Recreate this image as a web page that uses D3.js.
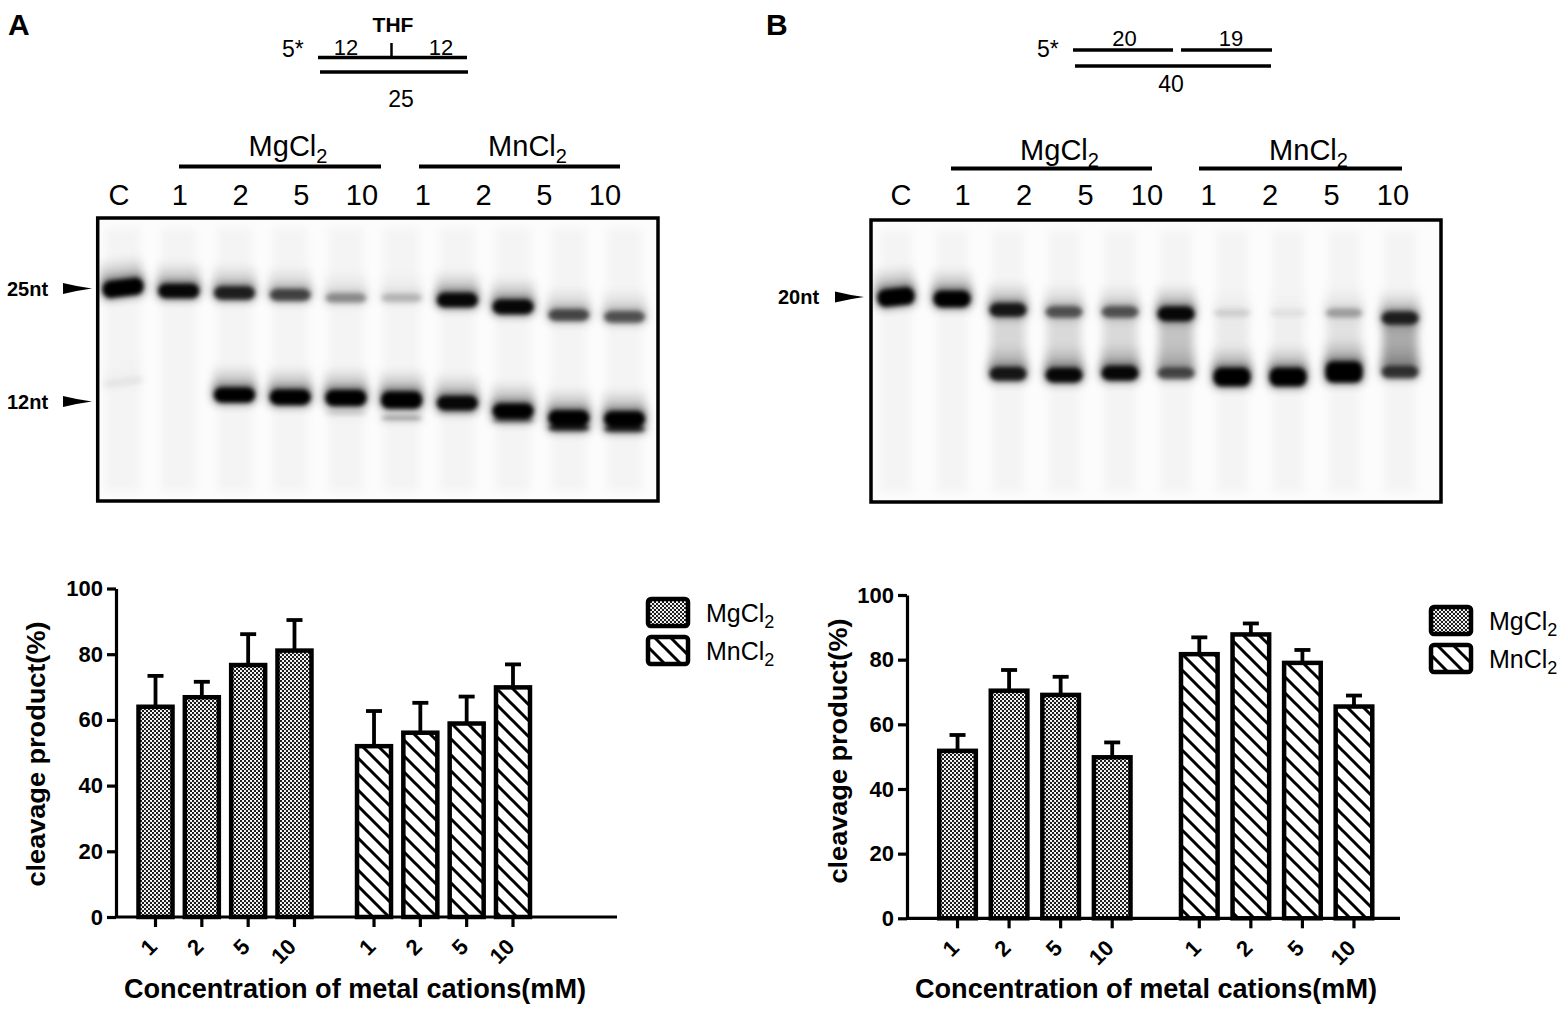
<!DOCTYPE html>
<html>
<head>
<meta charset="utf-8">
<script src="https://cdn.jsdelivr.net/npm/d3@7"></script>
<style>
  body { margin: 0; background: #fff; }
  svg { display: block; font-family: "Liberation Sans", Arial, Helvetica, sans-serif; }
</style>
</head>
<body>
<svg id="fig" width="1567" height="1012"></svg>
<script>
// ---------- data ----------
const concentrations = ["1", "2", "5", "10"];
const salts = ["MgCl2", "MnCl2"];
const yTicks = [0, 20, 40, 60, 80, 100];

// panel A bar chart (mean, SEM)
const cleavA_Mg = [64.0, 66.9, 76.7, 81.1];
const semA_Mg = [9.4, 4.7, 9.4, 9.3];
const cleavA_Mn = [52.0, 56.1, 58.9, 69.9];
const semA_Mn = [10.7, 9.1, 8.2, 7.0];

// panel B bar chart (mean, SEM)
const cleavB_Mg = [51.8, 70.4, 69.1, 49.8];
const semB_Mg = [4.9, 6.4, 5.6, 4.6];
const cleavB_Mn = [81.7, 87.8, 79.0, 65.5];
const semB_Mn = [5.2, 3.4, 4.0, 3.4];

// gel lane labels
const laneLabels = ["C", "1", "2", "5", "10", "1", "2", "5", "10"];

// gel A: band migration (fraction of gel height) and intensity, 10 lanes
const gelAUpperPos = [0.247, 0.258, 0.265, 0.272, 0.283, 0.283, 0.290, 0.314, 0.343, 0.350];
const gelAUpperInt = [1.2, 0.95, 0.8, 0.62, 0.32, 0.18, 0.95, 0.95, 0.6, 0.55];
const gelALowerPos = [0.580, 0.620, 0.625, 0.633, 0.636, 0.643, 0.654, 0.682, 0.707, 0.710];
const gelALowerInt = [0.04, 0, 1.0, 1.05, 1.1, 1.2, 0.95, 1.0, 1.05, 1.05];
const gelASubPos = [0, 0, 0, 0, 0.689, 0.707, 0.690, 0.714, 0.742, 0.746];
const gelASubInt = [0, 0, 0, 0, 0.12, 0.3, 0.08, 0.45, 0.8, 0.8];

// gel B
const gelBUpperPos = [0.273, 0.280, 0.319, 0.326, 0.326, 0.333, 0.330, 0.330, 0.330, 0.348];
const gelBUpperInt = [1.25, 1.15, 0.85, 0.55, 0.55, 0.95, 0.1, 0.05, 0.25, 0.8];
const gelBLowerPos = [0.550, 0.550, 0.546, 0.550, 0.543, 0.543, 0.557, 0.557, 0.539, 0.539];
const gelBLowerInt = [0, 0, 0.85, 0.95, 0.95, 0.6, 1.35, 1.35, 1.6, 0.7];
const gelBMidInt = [0, 0, 0.12, 0.11, 0.11, 0.2, 0.04, 0.02, 0.08, 0.3];

// ---------- setup ----------
const svg = d3.select("#fig");
const defs = svg.append("defs");

const dots = defs.append("pattern").attr("id", "dots")
  .attr("patternUnits", "userSpaceOnUse").attr("width", 4).attr("height", 4);
dots.append("rect").attr("width", 4).attr("height", 4).attr("fill", "#fff");
dots.append("circle").attr("cx", 1).attr("cy", 1).attr("r", 1.15).attr("fill", "#111");
dots.append("circle").attr("cx", 3).attr("cy", 3).attr("r", 1.15).attr("fill", "#111");

const hatch = defs.append("pattern").attr("id", "hatch")
  .attr("patternUnits", "userSpaceOnUse").attr("width", 16).attr("height", 16);
hatch.append("rect").attr("width", 16).attr("height", 16).attr("fill", "#fff");
hatch.append("path")
  .attr("d", "M-4,-4L20,20M-4,12L4,20M12,-4L20,4")
  .attr("stroke", "#000").attr("stroke-width", 3);

function addBlur(id, sd) {
  defs.append("filter").attr("id", id)
    .attr("x", "-10%").attr("y", "-10%").attr("width", "120%").attr("height", "120%")
    .append("feGaussianBlur").attr("stdDeviation", sd);
}
addBlur("blur2", 2.1);
addBlur("blur4", 4);

const grad = defs.append("linearGradient").attr("id", "smearGrad")
  .attr("x1", 0).attr("y1", 0).attr("x2", 0).attr("y2", 1);
grad.append("stop").attr("offset", "0%").attr("stop-color", "#000").attr("stop-opacity", 0);
grad.append("stop").attr("offset", "100%").attr("stop-color", "#000").attr("stop-opacity", 1);

function subText(sel, s, subSize, dy) {
  sel.append("tspan").text(s.slice(0, 4));
  sel.append("tspan").attr("font-size", subSize).attr("dy", dy).text(s.slice(4));
}

// ---------- bar charts ----------
function drawBars(cfg) {
  const g = svg.append("g");
  const y = d3.scaleLinear().domain([0, 100]).range([cfg.y0, cfg.y100]);
  const x0 = d3.scaleBand().domain(salts).range(cfg.groups).paddingInner(cfg.groupPad);
  const x1 = d3.scaleBand().domain(concentrations).range([0, x0.bandwidth()])
    .paddingInner(cfg.barPad).paddingOuter(cfg.barPad / 2);

  const rows = salts.flatMap((s, i) => concentrations.map((c, j) => ({
    salt: s,
    conc: c,
    value: (i ? cfg.mn : cfg.mg)[j],
    sem: (i ? cfg.mnSem : cfg.mgSem)[j],
  })));
  const cx = (d) => x0(d.salt) + x1(d.conc) + x1.bandwidth() / 2;

  // error bars (upper only)
  const err = g.append("g").attr("stroke", "#000").attr("stroke-width", 3.8);
  err.selectAll("line.v").data(rows).join("line").attr("class", "v")
    .attr("x1", cx).attr("x2", cx)
    .attr("y1", (d) => y(d.value)).attr("y2", (d) => y(d.value + d.sem));
  err.selectAll("line.cap").data(rows).join("line").attr("class", "cap")
    .attr("x1", (d) => cx(d) - 8).attr("x2", (d) => cx(d) + 8)
    .attr("y1", (d) => y(d.value + d.sem)).attr("y2", (d) => y(d.value + d.sem));

  g.append("g").selectAll("rect").data(rows).join("rect")
    .attr("x", (d) => x0(d.salt) + x1(d.conc))
    .attr("y", (d) => y(d.value))
    .attr("width", x1.bandwidth())
    .attr("height", (d) => y(0) - y(d.value))
    .attr("fill", (d) => (d.salt === "MgCl2" ? "url(#dots)" : "url(#hatch)"))
    .attr("stroke", "#000")
    .attr("stroke-width", 4.5);

  // y axis
  const ya = g.append("g")
    .attr("transform", `translate(${cfg.ax0},0)`)
    .call(d3.axisLeft(y).tickValues(yTicks).tickSize(9).tickPadding(4).tickSizeOuter(0));
  ya.select(".domain").attr("stroke-width", 3.2);
  ya.selectAll(".tick line").attr("stroke-width", 3.2);
  ya.selectAll(".tick text")
    .attr("font-size", 22).attr("font-weight", "bold").attr("fill", "#000")
    .attr("font-family", "inherit");

  // x axis
  g.append("line")
    .attr("x1", cfg.ax0).attr("x2", cfg.ax1)
    .attr("y1", y(0)).attr("y2", y(0))
    .attr("stroke", "#000").attr("stroke-width", 3.2);
  g.append("g").selectAll("line").data(rows).join("line")
    .attr("x1", cx).attr("x2", cx)
    .attr("y1", y(0)).attr("y2", y(0) + 10)
    .attr("stroke", "#000").attr("stroke-width", 3.2);
  g.append("g").selectAll("text").data(rows).join("text")
    .attr("transform", (d) => `translate(${cx(d) + 3},${y(0) + 31}) rotate(-45)`)
    .attr("text-anchor", "end")
    .attr("font-size", 22).attr("font-weight", "bold")
    .text((d) => d.conc);

  // axis titles
  g.append("text")
    .attr("transform", `translate(${cfg.yTitle[0]},${cfg.yTitle[1]}) rotate(-90)`)
    .attr("text-anchor", "middle")
    .attr("font-size", 25).attr("font-weight", "bold")
    .attr("textLength", 265).attr("lengthAdjust", "spacingAndGlyphs")
    .text("cleavage product(%)");
  g.append("text")
    .attr("x", cfg.xTitle[0]).attr("y", cfg.xTitle[1])
    .attr("text-anchor", "middle")
    .attr("font-size", 28).attr("font-weight", "bold")
    .attr("textLength", 462).attr("lengthAdjust", "spacingAndGlyphs")
    .text("Concentration of metal cations(mM)");

  // legend
  const lg = g.append("g").attr("transform", `translate(${cfg.legend[0]},${cfg.legend[1]})`);
  salts.forEach((s, i) => {
    lg.append("rect")
      .attr("x", 0).attr("y", i * 38)
      .attr("width", 40).attr("height", 27).attr("rx", 3)
      .attr("fill", i ? "url(#hatch)" : "url(#dots)")
      .attr("stroke", "#000").attr("stroke-width", 4.5);
    const t = lg.append("text").attr("x", 58).attr("y", i * 38 + 23).attr("font-size", 25);
    subText(t, s, 18, 6);
  });
}

drawBars({
  mg: cleavA_Mg, mgSem: semA_Mg, mn: cleavA_Mn, mnSem: semA_Mn,
  y0: 917, y100: 588.5,
  groups: [132.35, 536.15], groupPad: 0.152, barPad: 0.266,
  ax0: 116, ax1: 617,
  yTitle: [45, 754], xTitle: [355, 998],
  legend: [648, 599],
});

drawBars({
  mg: cleavB_Mg, mgSem: semB_Mg, mn: cleavB_Mn, mnSem: semB_Mn,
  y0: 918.3, y100: 595,
  groups: [931.75, 1379.75], groupPad: 0.147, barPad: 0.29,
  ax0: 907, ax1: 1400,
  yTitle: [847, 751], xTitle: [1146, 998],
  legend: [1431, 607],
});

// ---------- gels ----------
function bandHeight(v, kind) {
  if (kind === "sub") return 3 + 3 * v;
  return 7 + 8 * Math.min(v, 1) + 10 * Math.max(0, v - 1);
}

function drawGel(cfg) {
  const g = svg.append("g");
  const n = cfg.upperPos.length;
  const gx = d3.scalePoint().domain(d3.range(n)).range(cfg.lanes);
  const gy = d3.scaleLinear().domain([0, 1]).range([cfg.top, cfg.bottom]);
  const w = cfg.bandW;

  const clipId = cfg.id + "-clip";
  defs.append("clipPath").attr("id", clipId).append("rect")
    .attr("x", cfg.left).attr("y", cfg.top)
    .attr("width", cfg.right - cfg.left).attr("height", cfg.bottom - cfg.top);

  g.append("rect")
    .attr("x", cfg.left).attr("y", cfg.top)
    .attr("width", cfg.right - cfg.left).attr("height", cfg.bottom - cfg.top)
    .attr("fill", "#fcfcfc");

  const inner = g.append("g").attr("clip-path", `url(#${clipId})`);

  const bands = [];
  for (let i = 0; i < n; i++) {
    bands.push({ lane: i, pos: cfg.upperPos[i], v: cfg.upperInt[i], kind: "main" });
    bands.push({ lane: i, pos: cfg.lowerPos[i], v: cfg.lowerInt[i], kind: "main" });
    if (cfg.subPos) bands.push({ lane: i, pos: cfg.subPos[i], v: cfg.subInt[i], kind: "sub" });
  }
  const visible = bands.filter((b) => b.v > 0);
  // control lane runs slightly tilted
  const tilt = (b) => (b.lane === 0 ? `rotate(${cfg.tilt},${gx(0)},${gy(b.pos)})` : null);

  // faint lane streaks
  inner.append("g").attr("filter", "url(#blur4)")
    .selectAll("rect").data(d3.range(n)).join("rect")
    .attr("x", (i) => gx(i) - w / 2 + 4).attr("y", cfg.top + 10)
    .attr("width", w - 8).attr("height", cfg.bottom - cfg.top - 20)
    .attr("fill", "#000").attr("opacity", 0.03);

  // smear between the two bands
  if (cfg.midInt) {
    inner.append("g").attr("filter", "url(#blur4)")
      .selectAll("rect").data(d3.range(n).filter((i) => cfg.midInt[i] > 0)).join("rect")
      .attr("x", (i) => gx(i) - w / 2 + 2)
      .attr("y", (i) => gy(cfg.upperPos[i]) + 5)
      .attr("width", w - 4)
      .attr("height", (i) => gy(cfg.lowerPos[i]) - gy(cfg.upperPos[i]) - 10)
      .attr("fill", "#000").attr("opacity", (i) => cfg.midInt[i]);
  }

  // smear above each band
  inner.append("g").attr("filter", "url(#blur4)")
    .selectAll("rect").data(visible.filter((b) => b.kind === "main")).join("rect")
    .attr("transform", tilt)
    .attr("x", (b) => gx(b.lane) - w / 2)
    .attr("y", (b) => gy(b.pos) - bandHeight(b.v) / 2 - 22)
    .attr("width", w).attr("height", 26)
    .attr("fill", "url(#smearGrad)")
    .attr("opacity", (b) => Math.min(1, b.v) * 0.35);

  // soft halo
  inner.append("g").attr("filter", "url(#blur4)")
    .selectAll("rect").data(visible).join("rect")
    .attr("transform", tilt)
    .attr("x", (b) => gx(b.lane) - w / 2 - 1)
    .attr("y", (b) => gy(b.pos) - bandHeight(b.v, b.kind) / 2 - 2)
    .attr("width", w + 2)
    .attr("height", (b) => bandHeight(b.v, b.kind) + 4)
    .attr("rx", 8)
    .attr("fill", "#000")
    .attr("opacity", (b) => Math.min(1, b.v) * 0.45);

  // band cores
  inner.append("g").attr("filter", "url(#blur2)")
    .selectAll("rect").data(visible).join("rect")
    .attr("transform", tilt)
    .attr("x", (b) => gx(b.lane) - w / 2 + 1)
    .attr("y", (b) => gy(b.pos) - bandHeight(b.v, b.kind) / 2)
    .attr("width", w - 2)
    .attr("height", (b) => bandHeight(b.v, b.kind))
    .attr("rx", 8)
    .attr("fill", "#000")
    .attr("opacity", (b) => Math.min(1, b.v));

  g.append("rect")
    .attr("x", cfg.left).attr("y", cfg.top)
    .attr("width", cfg.right - cfg.left).attr("height", cfg.bottom - cfg.top)
    .attr("fill", "none").attr("stroke", "#000").attr("stroke-width", 3.5);

  // lane labels
  const lx = d3.scalePoint().domain(d3.range(laneLabels.length)).range(cfg.labelRange);
  g.append("g").selectAll("text").data(laneLabels).join("text")
    .attr("x", (d, i) => lx(i)).attr("y", cfg.labelY)
    .attr("text-anchor", "middle").attr("font-size", 29)
    .text((d) => d);

  // group labels with bars
  salts.forEach((s, k) => {
    const [u0, u1] = cfg.underlines[k];
    g.append("line")
      .attr("x1", u0).attr("x2", u1).attr("y1", cfg.underY).attr("y2", cfg.underY)
      .attr("stroke", "#000").attr("stroke-width", 4);
    const t = g.append("text")
      .attr("x", (u0 + u1) / 2 + 8).attr("y", cfg.groupY)
      .attr("text-anchor", "middle").attr("font-size", 29);
    subText(t, s, 20, 7);
  });

  // size markers
  cfg.markers.forEach((m) => {
    g.append("text")
      .attr("x", m.x).attr("y", m.y + 7)
      .attr("font-size", 20).attr("font-weight", "bold")
      .text(m.label);
    g.append("path")
      .attr("transform", `translate(${m.ax},${m.y})`)
      .attr("d", "M0,-5.5Q14,-2 29,0Q14,2 0,5.5Z")
      .attr("fill", "#000");
  });
}

drawGel({
  id: "gelA",
  left: 97.7, right: 658, top: 218, bottom: 501,
  lanes: [123, 624.5], bandW: 43, tilt: -7,
  upperPos: gelAUpperPos, upperInt: gelAUpperInt,
  lowerPos: gelALowerPos, lowerInt: gelALowerInt,
  subPos: gelASubPos, subInt: gelASubInt,
  labelRange: [119, 605], labelY: 205,
  underlines: [[179, 381], [419, 620]], underY: 166.5, groupY: 156,
  markers: [
    { label: "25nt", x: 7, y: 288.5, ax: 63 },
    { label: "12nt", x: 7, y: 401.5, ax: 63 },
  ],
});

drawGel({
  id: "gelB",
  left: 871, right: 1441, top: 220, bottom: 502,
  lanes: [896, 1400], bandW: 39, tilt: -6,
  upperPos: gelBUpperPos, upperInt: gelBUpperInt,
  lowerPos: gelBLowerPos, lowerInt: gelBLowerInt,
  midInt: gelBMidInt,
  labelRange: [901, 1393], labelY: 205,
  underlines: [[951, 1152], [1199, 1402]], underY: 168.5, groupY: 160,
  markers: [
    { label: "20nt", x: 778, y: 297, ax: 835 },
  ],
});

// ---------- substrate diagrams ----------
const ann = svg.append("g").attr("stroke", "#000");
function strand(x1, x2, y) {
  ann.append("line").attr("x1", x1).attr("x2", x2).attr("y1", y).attr("y2", y).attr("stroke-width", 3.5);
}
function label(x, y, txt, size, anchor, bold) {
  svg.append("text").attr("x", x).attr("y", y)
    .attr("text-anchor", anchor).attr("font-size", size)
    .attr("font-weight", bold ? "bold" : "normal").text(txt);
}

// A
label(393, 32, "THF", 21, "middle", true);
label(282, 57, "5*", 23, "start");
label(346, 55, "12", 22, "middle");
label(441, 55, "12", 22, "middle");
ann.append("line").attr("x1", 391.5).attr("x2", 391.5).attr("y1", 43).attr("y2", 57).attr("stroke-width", 2.5);
strand(318, 467, 57.5);
strand(320, 468, 72);
label(401, 107, "25", 23, "middle");

// B
label(1037, 57, "5*", 23, "start");
label(1124.5, 46, "20", 22, "middle");
label(1231, 46, "19", 22, "middle");
strand(1073, 1173, 50);
strand(1181, 1272, 50);
strand(1075, 1271, 66);
label(1171, 92, "40", 23, "middle");

// panel letters
label(8, 35, "A", 30, "start", true);
label(766, 35, "B", 30, "start", true);
</script>
</body>
</html>
